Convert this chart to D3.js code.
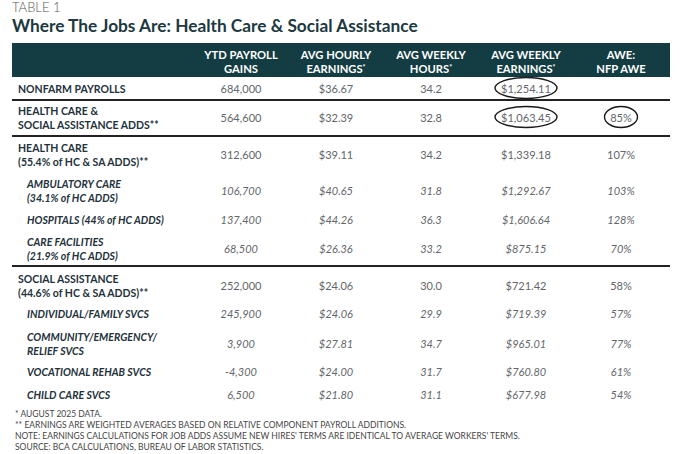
<!DOCTYPE html>
<html>
<head>
<meta charset="utf-8">
<script src="https://cdn.jsdelivr.net/npm/d3@7"></script>
<style>
  body { margin: 0; background: #fff; }
  svg { display: block; }
</style>
</head>
<body>
<div id="chart-area"></div>
<script>
// table data, one array per column
var rowLabels = [
    ["NONFARM PAYROLLS"],
    ["HEALTH CARE &", "SOCIAL ASSISTANCE ADDS**"],
    ["HEALTH CARE", "(55.4% of HC & SA ADDS)**"],
    ["AMBULATORY CARE", "(34.1% of HC ADDS)"],
    ["HOSPITALS (44% of HC ADDS)"],
    ["CARE FACILITIES", "(21.9% of HC ADDS)"],
    ["SOCIAL ASSISTANCE", "(44.6% of HC & SA ADDS)**"],
    ["INDIVIDUAL/FAMILY SVCS"],
    ["COMMUNITY/EMERGENCY/", "RELIEF SVCS"],
    ["VOCATIONAL REHAB SVCS"],
    ["CHILD CARE SVCS"]
];
var rowIsSub = [false, false, false, true, true, true, false, true, true, true, true];

var ytdGains   = [684000, 564600, 312600, 106700, 137400, 68500, 252000, 245900, 3900, -4300, 6500];
var avgHourly  = [36.67, 32.39, 39.11, 40.65, 44.26, 26.36, 24.06, 24.06, 27.81, 24.00, 21.80];
var avgHours   = [34.2, 32.8, 34.2, 31.8, 36.3, 33.2, 30.0, 29.9, 34.7, 31.7, 31.1];
var avgWeekly  = [1254.11, 1063.45, 1339.18, 1292.67, 1606.64, 875.15, 721.42, 719.39, 965.01, 760.80, 677.98];
var aweRatio   = [null, 85, 107, 103, 128, 70, 58, 57, 77, 61, 54];

var columnKeys   = ["ytd", "hourly", "hours", "weekly", "awe"];
var columnTitles = [["YTD PAYROLL", "GAINS"], ["AVG HOURLY", "EARNINGS*"], ["AVG WEEKLY", "HOURS*"],
                    ["AVG WEEKLY", "EARNINGS*"], ["AWE:", "NFP AWE"]];

// cells circled in the original
var circled = [[0, "weekly"], [1, "weekly"], [1, "awe"]];

var footnotes = [
    "*  AUGUST 2025 DATA.",
    "**  EARNINGS ARE WEIGHTED AVERAGES BASED ON RELATIVE COMPONENT PAYROLL ADDITIONS.",
    "NOTE: EARNINGS CALCULATIONS FOR JOB ADDS ASSUME NEW HIRES' TERMS ARE IDENTICAL TO AVERAGE WORKERS' TERMS.",
    "SOURCE: BCA CALCULATIONS, BUREAU OF LABOR STATISTICS."
];

// layout
var svgWidth = 680, svgHeight = 454;
var left = 12, right = 670;
var headTop = 43, headBottom = 77;
var rowCenters = [89, 118, 155, 191, 220, 249, 286, 314, 344, 372, 395];
var dividers = [100, 136, 266];
var teal = "#143d43";
var ink = "#23313a";
var grey = "#62666a";

var fmt = d3.formatLocale({ decimal: ".", thousands: ",", grouping: [3], currency: ["$", ""], minus: "-" });
var fmtInt = fmt.format(","), fmtMoney = fmt.format("$,.2f"), fmtHours = fmt.format(".1f");

var rows = rowLabels.map(function(label, i) {
    return {
        label: label, sub: rowIsSub[i],
        ytd: fmtInt(ytdGains[i]),
        hourly: fmtMoney(avgHourly[i]),
        hours: fmtHours(avgHours[i]),
        weekly: fmtMoney(avgWeekly[i]),
        awe: aweRatio[i] == null ? "" : aweRatio[i] + "%"
    };
});

var svg = d3.select("#chart-area")
            .append("svg")
            .attr("width", svgWidth)
            .attr("height", svgHeight)
            .style("font-family", "Lato, 'Open Sans', sans-serif");

var x = d3.scalePoint()
          .domain(columnKeys)
          .range([241, 621]);

var y = d3.scaleOrdinal()
          .domain(d3.range(rows.length))
          .range(rowCenters);

// titles
svg.append("text")
   .attr("x", left).attr("y", 12)
   .attr("font-size", 13).attr("font-weight", 300)
   .attr("fill", "#555")
   .text("TABLE 1");

svg.append("text")
   .attr("x", left).attr("y", 32)
   .attr("font-size", 17.3).attr("font-weight", 700)
   .attr("fill", "#1c3940")
   .text("Where The Jobs Are: Health Care & Social Assistance");

// header band
svg.append("rect")
   .attr("x", left).attr("y", headTop)
   .attr("width", right - left).attr("height", headBottom - headTop)
   .attr("fill", teal);

var head = svg.selectAll(".col-head")
              .data(columnKeys)
              .enter().append("text")
              .attr("class", "col-head")
              .attr("text-anchor", "middle")
              .attr("font-size", 11.2).attr("font-weight", 700)
              .attr("fill", "#fff");

head.each(function(k, i) {
    var t = d3.select(this);
    columnTitles[i].forEach(function(line, j) {
        var star = line.slice(-1) === "*";
        t.append("tspan")
         .attr("x", x(k))
         .attr("y", j === 0 ? 59 : 73)
         .text(star ? line.slice(0, -1) : line);
        if (star) t.append("tspan").attr("font-size", 7).attr("dy", -3).text("*");
    });
});

// row dividers
svg.selectAll(".divider")
   .data(dividers)
   .enter().append("line")
   .attr("class", "divider")
   .attr("x1", left).attr("x2", right)
   .attr("y1", d => d).attr("y2", d => d)
   .attr("stroke", "#222").attr("stroke-width", 1.8);

// rows
var rowGroups = svg.selectAll(".row")
                   .data(rows)
                   .enter().append("g")
                   .attr("class", "row")
                   .attr("transform", (d, i) => "translate(0," + y(i) + ")");

rowGroups.append("text")
    .attr("font-size", 10.5)
    .attr("font-weight", 700)
    .attr("font-style", d => d.sub ? "italic" : "normal")
    .attr("fill", ink)
    .each(function(d) {
        var t = d3.select(this);
        var n = d.label.length;
        d.label.forEach(function(line, j) {
            var dy = n === 1 ? 4 : (j === 0 ? -3.5 : 11);
            t.append("tspan")
             .attr("x", d.sub ? 27 : 18)
             .attr("y", dy)
             .text(line);
        });
    });

columnKeys.forEach(function(k) {
    rowGroups.append("text")
        .attr("x", x(k))
        .attr("y", 4)
        .attr("text-anchor", "middle")
        .attr("font-size", 11)
        .attr("font-weight", 400)
        .attr("font-style", d => d.sub ? "italic" : "normal")
        .attr("fill", grey)
        .text(d => d[k]);
});

// hand-drawn ellipses
svg.selectAll(".mark")
   .data(circled)
   .enter().append("ellipse")
   .attr("class", "mark")
   .attr("cx", d => x(d[1]))
   .attr("cy", d => y(d[0]) - 1)
   .attr("rx", d => d[1] === "awe" ? 16.5 : 31)
   .attr("ry", 10.5)
   .attr("fill", "none")
   .attr("stroke", "#1a1a1a")
   .attr("stroke-width", 1.4);

// footnotes
svg.selectAll(".foot")
   .data(footnotes)
   .enter().append("text")
   .attr("class", "foot")
   .attr("x", 15)
   .attr("y", (d, i) => 417 + i * 11)
   .attr("font-size", 8.5)
   .attr("fill", "#444")
   .text(d => d);
</script>
</body>
</html>
